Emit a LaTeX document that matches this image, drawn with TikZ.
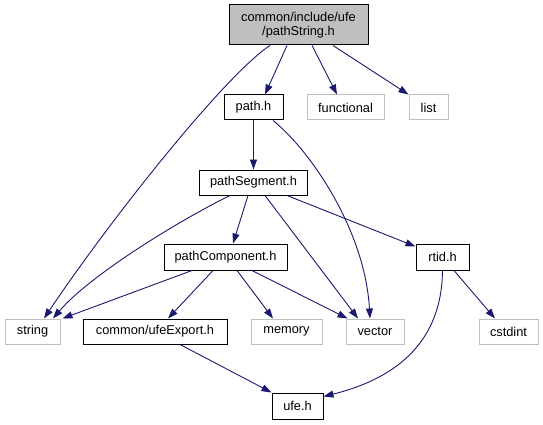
\documentclass[tikz,border=0pt]{standalone}
\usepackage{fontspec}
\setmainfont{Liberation Sans}
\usetikzlibrary{arrows.meta}
\definecolor{grey75}{HTML}{BFBFBF}
\definecolor{edgeblue}{HTML}{191970}
\tikzset{
  hdr/.style={draw=black, line width=1pt, fill=white, minimum height=25pt, inner sep=0pt, font=\fontsize{12.8}{14.5}\selectfont},
  sys/.style={draw=grey75, line width=1pt, fill=white, minimum height=25pt, inner sep=0pt, font=\fontsize{12.8}{14.5}\selectfont},
  rootbox/.style={draw=black, line width=1pt, fill=grey75, minimum height=40pt, inner sep=0pt, align=center, font=\fontsize{12.8}{14.5}\selectfont},
  dep/.style={draw=edgeblue, line width=0.9pt, -{Triangle[length=10pt,width=7pt]}}
}
\begin{document}
\begin{tikzpicture}[x=1pt,y=-1pt]
\useasboundingbox (0,0) rectangle (543,425);
% nodes
\node[rootbox, minimum width=139pt] (root) at (298.5,25) {common/include/ufe\\/pathString.h};
\node[hdr, minimum width=59pt] (pathh) at (253.5,107.5) {path.h};
\node[sys, minimum width=77pt] (functional) at (345.5,107.5) {functional};
\node[sys, minimum width=39pt] (list) at (428.5,107.5) {list};
\node[hdr, minimum width=108pt] (pathSegment) at (253.5,182.5) {pathSegment.h};
\node[hdr, minimum width=123pt, minimum height=26pt] (pathComponent) at (225.5,257) {pathComponent.h};
\node[hdr, minimum width=53pt, minimum height=26pt] (rtid) at (442.5,257) {rtid.h};
\node[sys, minimum width=55pt] (string) at (32.5,331.5) {string};
\node[hdr, minimum width=144pt] (ufeExport) at (155,331.5) {common/ufeExport.h};
\node[sys, minimum width=71pt] (memory) at (286.5,331.5) {memory};
\node[sys, minimum width=58pt] (vector) at (375,331.5) {vector};
\node[sys, minimum width=59pt] (cstdint) at (508.5,331.5) {cstdint};
\node[hdr, minimum width=51pt, minimum height=26pt] (ufeh) at (297.5,406) {ufe.h};
% edges from root
\draw[dep] ([xshift=-28.5pt]root.south) .. controls (225,75) and (110,220) .. ([xshift=11.5pt]string.north);
\draw[dep] ([xshift=-11.5pt]root.south) -- ([xshift=11.5pt]pathh.north);
\draw[dep] ([xshift=13.5pt]root.south) -- ([xshift=-8.5pt]functional.north);
\draw[dep] ([xshift=34.5pt]root.south) -- (list.north west);
% path.h
\draw[dep] (pathh.south) -- (pathSegment.north);
\draw[dep] ([xshift=19.5pt]pathh.south) .. controls (310,150) and (365,230) .. ([xshift=-5pt]vector.north);
% pathSegment.h
\draw[dep] ([xshift=-23.5pt]pathSegment.south) .. controls (180,220) and (90,275) .. ([xshift=20.5pt]string.north);
\draw[dep] ([xshift=-5.5pt]pathSegment.south) -- ([xshift=7.5pt]pathComponent.north);
\draw[dep] ([xshift=11.5pt]pathSegment.south) -- ([xshift=-17pt]vector.north);
\draw[dep] ([xshift=33.5pt]pathSegment.south) -- ([yshift=-3pt]rtid.north west);
% pathComponent.h
\draw[dep] ([xshift=-33.5pt]pathComponent.south) -- ([xshift=2pt]string.north east);
\draw[dep] ([xshift=-12.5pt]pathComponent.south) -- ([xshift=13pt]ufeExport.north);
\draw[dep] ([xshift=11.5pt]pathComponent.south) -- ([xshift=-13.5pt]memory.north);
\draw[dep] ([xshift=26.5pt]pathComponent.south) -- ([xshift=2pt]vector.north west);
% rtid.h
\draw[dep] (rtid.south) .. controls (442,330) and (410,375) .. ([yshift=-4pt]ufeh.north east);
\draw[dep] ([xshift=11.5pt]rtid.south) -- ([xshift=-13.5pt]cstdint.north);
% ufeExport
\draw[dep] ([xshift=25pt]ufeExport.south) -- (ufeh.north west);
\end{tikzpicture}
\end{document}
